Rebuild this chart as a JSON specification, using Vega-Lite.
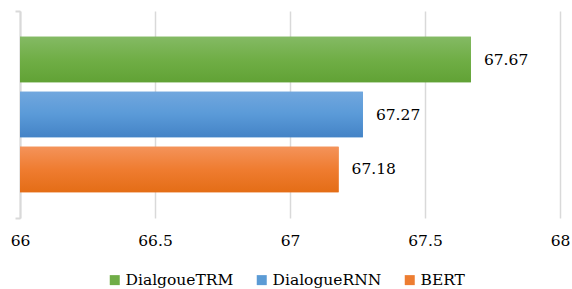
{
  "$schema": "https://vega.github.io/schema/vega-lite/v6.json",
  "width": 540,
  "height": 207,
  "autosize": {"type": "none"},
  "padding": {"left": 20, "top": 11, "right": 12, "bottom": 71},
  "background": "white",
  "config": {
    "view": {"stroke": null},
    "font": "DejaVu Serif"
  },
  "data": {
    "values": [
      {"cat": "c", "model": "DialgoueTRM", "value": 67.67},
      {"cat": "c", "model": "DialogueRNN", "value": 67.27},
      {"cat": "c", "model": "BERT", "value": 67.18}
    ]
  },
  "encoding": {
    "y": {
      "field": "cat", "type": "nominal",
      "scale": {"paddingInner": 0, "paddingOuter": 0},
      "axis": {"labels": false, "title": null, "domainColor": "#d9d9d9", "domainWidth": 2, "tickColor": "#d9d9d9", "tickWidth": 2, "tickBand": "extent", "tickSize": 5, "grid": false}
    },
    "yOffset": {
      "field": "model", "type": "nominal",
      "scale": {"domain": ["DialgoueTRM", "DialogueRNN", "BERT"], "paddingInner": 0.17, "paddingOuter": 0.467}
    },
    "x": {
      "field": "value", "type": "quantitative",
      "scale": {"domain": [66, 68], "zero": false, "nice": false},
      "axis": {"values": [66, 66.5, 67, 67.5, 68], "format": "~f", "title": null, "domain": false, "ticks": false, "grid": true, "gridColor": "#d9d9d9", "gridWidth": 1.5, "labelFlush": false, "labelPadding": 15, "labelFontSize": 15.5, "labelColor": "#000000", "labelFont": "DejaVu Serif"}
    }
  },
  "layer": [
    {
      "mark": {"type": "bar"},
      "encoding": {
        "x2": {"datum": 66},
        "color": {
          "field": "model", "type": "nominal",
          "scale": {"domain": ["DialgoueTRM", "DialogueRNN", "BERT"], "range": ["#70ad47", "#5b9bd5", "#ed7d31"]},
          "legend": {"orient": "none", "legendX": 87, "legendY": 261, "direction": "horizontal", "title": null, "symbolType": "square", "symbolSize": 100, "symbolStrokeWidth": 0, "labelFontSize": 15.5, "labelColor": "#000000", "labelFont": "DejaVu Serif", "columnPadding": 20, "labelOffset": 3}
        }
      }
    },
    {
      "transform": [{"filter": "datum.model == 'DialgoueTRM'"}],
      "mark": {"type": "bar", "fill": {"gradient": "linear", "x1": 0, "y1": 0, "x2": 0, "y2": 1, "stops": [{"offset": 0, "color": "#84ba64"}, {"offset": 0.5, "color": "#70ae46"}, {"offset": 1, "color": "#61a235"}]}},
      "encoding": {"x2": {"datum": 66}}
    },
    {
      "transform": [{"filter": "datum.model == 'DialogueRNN'"}],
      "mark": {"type": "bar", "fill": {"gradient": "linear", "x1": 0, "y1": 0, "x2": 0, "y2": 1, "stops": [{"offset": 0, "color": "#71a7de"}, {"offset": 0.5, "color": "#5a9ad8"}, {"offset": 1, "color": "#4483c6"}]}},
      "encoding": {"x2": {"datum": 66}}
    },
    {
      "transform": [{"filter": "datum.model == 'BERT'"}],
      "mark": {"type": "bar", "fill": {"gradient": "linear", "x1": 0, "y1": 0, "x2": 0, "y2": 1, "stops": [{"offset": 0, "color": "#f4935a"}, {"offset": 0.5, "color": "#ef7c30"}, {"offset": 1, "color": "#e46d16"}]}},
      "encoding": {"x2": {"datum": 66}}
    },
    {
      "mark": {"type": "text", "align": "left", "baseline": "middle", "dx": 13, "fontSize": 15.5, "color": "#000000", "font": "DejaVu Serif"},
      "encoding": {"text": {"field": "value", "type": "quantitative", "format": ".2f"}}
    }
  ]
}
